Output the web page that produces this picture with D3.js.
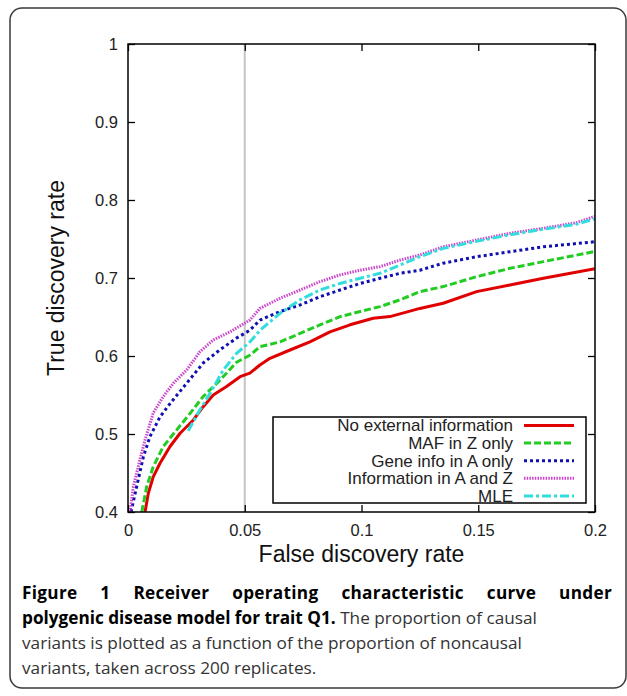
<!DOCTYPE html>
<html>
<head>
<meta charset="utf-8">
<script src="https://cdn.jsdelivr.net/npm/d3@7"></script>
<style>
  body { margin: 0; background: #fff; }
  svg { display: block; }
</style>
</head>
<body>
<div id="chart"></div>
<script>
// values
const xTicks = [0, 0.05, 0.1, 0.15, 0.2];
const yTicks = [0.4, 0.5, 0.6, 0.7, 0.8, 0.9, 1];
const cutoffFdr = 0.05;

const noExtFdr = [0.0073,0.0087,0.0108,0.0137,0.018,0.0223,0.028,0.0322,0.0365,0.0422,0.048,0.0522,0.0565,0.0608,0.0694,0.0779,0.0865,0.0951,0.105,0.1122,0.125,0.135,0.1493,0.1636,0.1779,0.2];
const noExtTdr = [0.40,0.424,0.445,0.4625,0.484,0.501,0.518,0.535,0.55,0.561,0.5735,0.578,0.5885,0.597,0.6077,0.618,0.631,0.64,0.6484,0.6505,0.661,0.6676,0.6825,0.691,0.6996,0.712];

const mafFdr = [0.0059,0.008,0.0108,0.0151,0.0208,0.0266,0.0322,0.0394,0.0465,0.0522,0.0565,0.0651,0.0737,0.0822,0.0908,0.0994,0.1079,0.1165,0.125,0.135,0.1493,0.1636,0.1779,0.2];
const mafTdr = [0.40,0.4325,0.458,0.484,0.505,0.5265,0.548,0.569,0.592,0.601,0.612,0.618,0.629,0.6398,0.6505,0.657,0.6633,0.672,0.6825,0.689,0.7017,0.7124,0.721,0.734];

const geneFdr = [0.0013,0.0037,0.0066,0.0094,0.0137,0.018,0.0251,0.0322,0.0394,0.0465,0.0522,0.0565,0.0651,0.0737,0.0822,0.0908,0.0994,0.1079,0.1165,0.125,0.135,0.1493,0.1636,0.1779,0.2];
const geneTdr = [0.40,0.4325,0.471,0.4966,0.522,0.539,0.565,0.591,0.608,0.623,0.633,0.646,0.657,0.6654,0.676,0.6846,0.693,0.6996,0.706,0.710,0.719,0.7273,0.7337,0.740,0.7465];

const bothFdr = [0.0009,0.0023,0.0051,0.0073,0.0108,0.0151,0.0194,0.0251,0.0308,0.0365,0.0437,0.0522,0.0565,0.0651,0.0737,0.0822,0.0908,0.0994,0.1079,0.1165,0.125,0.135,0.1493,0.1636,0.1779,0.1921,0.2];
const bothTdr = [0.40,0.4325,0.467,0.4923,0.527,0.548,0.565,0.582,0.6055,0.6205,0.631,0.646,0.661,0.674,0.6846,0.6953,0.704,0.710,0.7145,0.723,0.7295,0.740,0.7487,0.7573,0.7637,0.771,0.779];

const mleFdr = [0.0258,0.0308,0.0351,0.0408,0.0465,0.0522,0.0565,0.0651,0.0737,0.0822,0.0908,0.0994,0.1079,0.1165,0.125,0.135,0.1493,0.1636,0.1779,0.1921,0.2];
const mleTdr = [0.504,0.531,0.552,0.582,0.6035,0.618,0.633,0.6547,0.672,0.6846,0.693,0.6996,0.706,0.7167,0.7273,0.738,0.747,0.7555,0.7625,0.769,0.776];

const seriesNames = ["No external information", "MAF in Z only", "Gene info in A only", "Information in A and Z", "MLE"];

// styles for each series (gnuplot-ish)
const styles = [
  { color: "#e00000", dash: null },
  { color: "#22cc22", dash: "7,3" },
  { color: "#1010b0", dash: "3,3" },
  { color: "#cc44cc", dash: "1.5,1.2" },
  { color: "#33dddd", dash: "9,3,3,3" }
];

const series = [
  d3.zip(noExtFdr, noExtTdr),
  d3.zip(mafFdr, mafTdr),
  d3.zip(geneFdr, geneTdr),
  d3.zip(bothFdr, bothTdr),
  d3.zip(mleFdr, mleTdr)
];

const W = 627, H = 696;
const plot = { left: 128, top: 44, right: 595, bottom: 512 };

const svg = d3.select("#chart").append("svg")
  .attr("width", W).attr("height", H);

// card
svg.append("rect")
  .attr("x", 10).attr("y", 8)
  .attr("width", 616).attr("height", 680)
  .attr("rx", 12)
  .attr("fill", "#fff")
  .attr("stroke", "#3a3a3a").attr("stroke-width", 1.5);

const x = d3.scaleLinear().domain([0, 0.2]).range([plot.left, plot.right]);
const y = d3.scaleLinear().domain([0.4, 1]).range([plot.bottom, plot.top]);

const font = "'Liberation Sans', Arial, sans-serif";

svg.append("clipPath").attr("id", "clip")
  .append("rect")
  .attr("x", plot.left).attr("y", plot.top)
  .attr("width", plot.right - plot.left).attr("height", plot.bottom - plot.top);

// grey cutoff line
svg.append("line")
  .attr("x1", x(cutoffFdr)).attr("x2", x(cutoffFdr))
  .attr("y1", y(0.4)).attr("y2", y(1))
  .attr("stroke", "#c4c4c4").attr("stroke-width", 2);

// axes, ticks pointing inward, mirrored
function styleAxis(g) {
  g.select(".domain").remove();
  g.selectAll("line").attr("stroke", "#000").attr("stroke-width", 1.3);
  g.selectAll("text").attr("font-family", font).attr("font-size", 16.5).attr("fill", "#222");
}
const fmt = d => String(d);

svg.append("g")
  .attr("transform", `translate(0,${plot.bottom})`)
  .call(d3.axisBottom(x).tickValues(xTicks).tickFormat(fmt).tickSize(-7).tickPadding(12))
  .call(styleAxis);
svg.append("g")
  .attr("transform", `translate(0,${plot.top})`)
  .call(d3.axisTop(x).tickValues(xTicks).tickFormat("").tickSize(-7))
  .call(styleAxis);
svg.append("g")
  .attr("transform", `translate(${plot.left},0)`)
  .call(d3.axisLeft(y).tickValues(yTicks).tickFormat(fmt).tickSize(-7).tickPadding(10))
  .call(styleAxis);
svg.append("g")
  .attr("transform", `translate(${plot.right},0)`)
  .call(d3.axisRight(y).tickValues(yTicks).tickFormat("").tickSize(-7))
  .call(styleAxis);

// curves
const line = d3.line().x(d => x(d[0])).y(d => y(d[1]));
svg.append("g").attr("clip-path", "url(#clip)")
  .selectAll("path")
  .data(series)
  .join("path")
  .attr("d", line)
  .attr("fill", "none")
  .attr("stroke", (d, i) => styles[i].color)
  .attr("stroke-width", 3)
  .attr("stroke-dasharray", (d, i) => styles[i].dash)
  .attr("stroke-linejoin", "round");

// legend
const legend = svg.append("g");
legend.append("rect")
  .attr("x", 273).attr("y", 417)
  .attr("width", 313).attr("height", 86)
  .attr("fill", "#fff")
  .attr("stroke", "#000").attr("stroke-width", 1.5);
const rows = legend.selectAll("g.row")
  .data(seriesNames)
  .join("g")
  .attr("class", "row")
  .attr("transform", (d, i) => `translate(0,${425.5 + i * 17.6})`);
rows.append("text")
  .attr("x", 513).attr("dy", "0.35em")
  .attr("text-anchor", "end")
  .attr("font-family", font).attr("font-size", 17).attr("fill", "#222")
  .text(d => d);
rows.append("line")
  .attr("x1", 524).attr("x2", 574)
  .attr("stroke", (d, i) => styles[i].color)
  .attr("stroke-width", 3)
  .attr("stroke-dasharray", (d, i) => styles[i].dash);

// frame on top
svg.append("rect")
  .attr("x", plot.left).attr("y", plot.top)
  .attr("width", plot.right - plot.left).attr("height", plot.bottom - plot.top)
  .attr("fill", "none")
  .attr("stroke", "#000").attr("stroke-width", 1.5);

// axis titles
svg.append("text")
  .attr("x", (plot.left + plot.right) / 2).attr("y", 554).attr("dy", "0.35em")
  .attr("text-anchor", "middle")
  .attr("font-family", font).attr("font-size", 23).attr("fill", "#111")
  .text("False discovery rate");
svg.append("text")
  .attr("transform", `translate(56,${(plot.top + plot.bottom) / 2}) rotate(-90)`)
  .attr("dy", "0.35em")
  .attr("text-anchor", "middle")
  .attr("font-family", font).attr("font-size", 23).attr("fill", "#111")
  .text("True discovery rate");

// caption
const capFont = "'Open Sans', 'Noto Sans', sans-serif";
const capSize = 17.2;
const capLeft = 22, capRight = 612;
const cap1 = svg.append("text")
  .attr("x", capLeft).attr("y", 599)
  .attr("font-family", capFont).attr("font-size", capSize)
  .attr("font-weight", "bold").attr("fill", "#000")
  .attr("letter-spacing", 0.3)
  .text("Figure 1 Receiver operating characteristic curve under");
const natural = cap1.node().getComputedTextLength();
const gaps = cap1.text().split(" ").length - 1;
cap1.attr("word-spacing", (capRight - capLeft - natural) / gaps);

const cap2 = svg.append("text")
  .attr("x", capLeft).attr("y", 624)
  .attr("font-family", capFont).attr("font-size", capSize);
cap2.append("tspan").attr("font-weight", "bold").attr("fill", "#000")
  .text("polygenic disease model for trait Q1.");
cap2.append("tspan").attr("fill", "#333")
  .text(" The proportion of causal");

svg.append("text")
  .attr("x", capLeft).attr("y", 649)
  .attr("font-family", capFont).attr("font-size", capSize).attr("fill", "#333")
  .text("variants is plotted as a function of the proportion of noncausal");
svg.append("text")
  .attr("x", capLeft).attr("y", 674)
  .attr("font-family", capFont).attr("font-size", capSize).attr("fill", "#333")
  .text("variants, taken across 200 replicates.");
</script>
</body>
</html>
